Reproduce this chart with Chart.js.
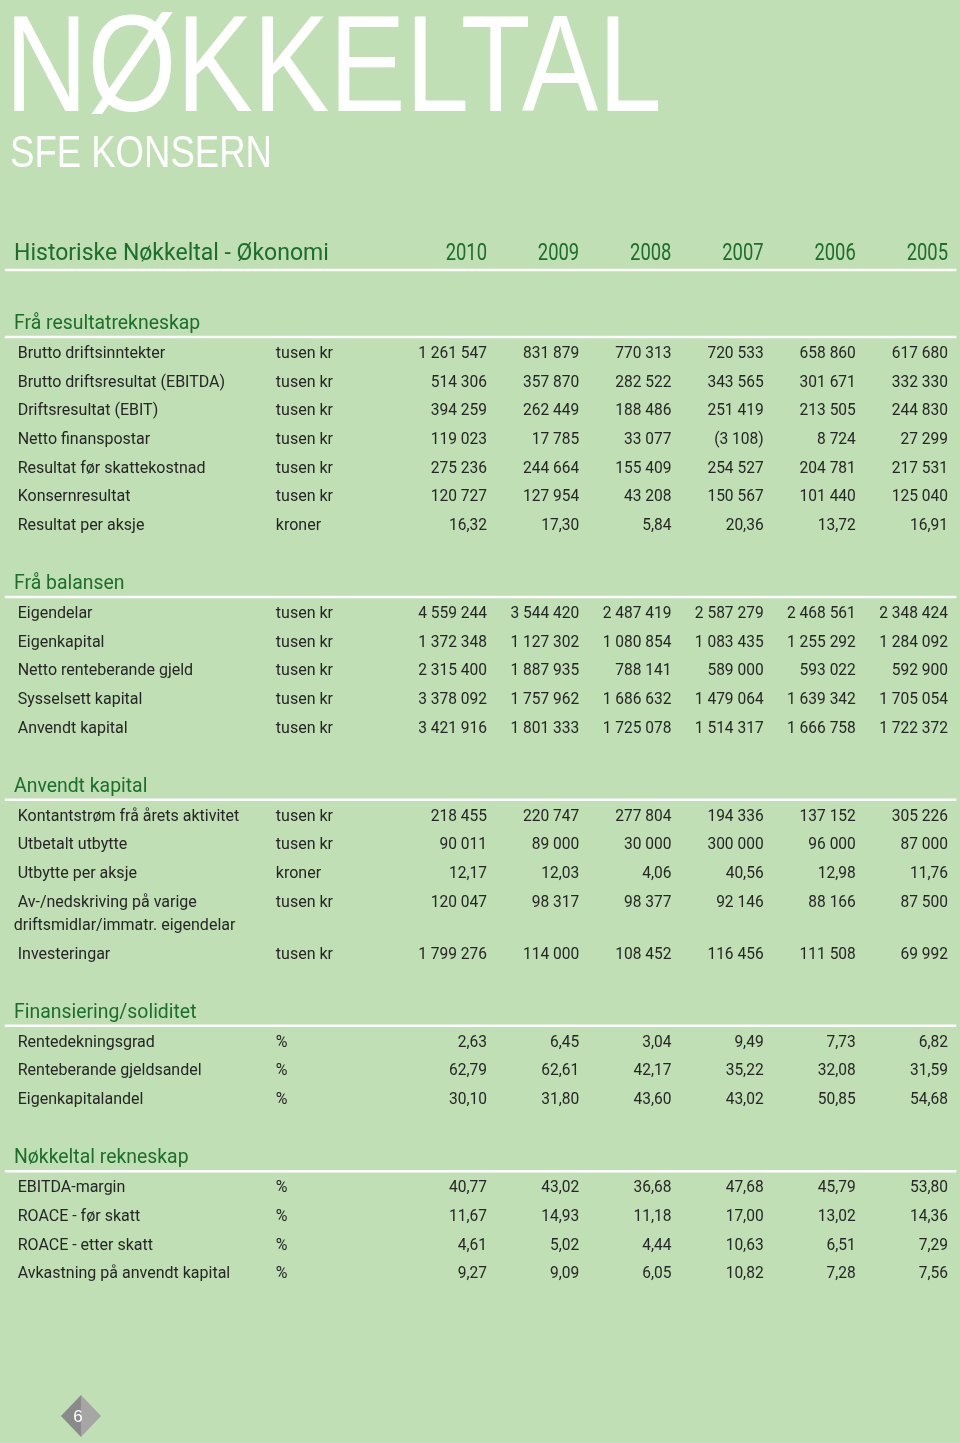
<!DOCTYPE html>
<html>
<head>
<meta charset="utf-8">
<script src="https://cdn.jsdelivr.net/npm/chart.js@4.4.1/dist/chart.umd.min.js"></script>
<style>
  html, body { margin: 0; padding: 0; background: #c0dfb4; }
  #wrap { width: 960px; height: 1443px; }
</style>
</head>
<body>
<div id="wrap"><canvas id="keyFigures" width="960" height="1443"></canvas></div>
<script>
// Table content
const pageTitle = 'NØKKELTAL';
const pageSubtitle = 'SFE KONSERN';
const tableTitle = 'Historiske Nøkkeltal - Økonomi';
const years = ['2010', '2009', '2008', '2007', '2006', '2005'];
const sectionNames = ['Frå resultatrekneskap', 'Frå balansen', 'Anvendt kapital', 'Finansiering/soliditet', 'Nøkkeltal rekneskap'];

const resultatLabels = ['Brutto driftsinntekter', 'Brutto driftsresultat (EBITDA)', 'Driftsresultat (EBIT)', 'Netto finanspostar',
  'Resultat før skattekostnad', 'Konsernresultat', 'Resultat per aksje'];
const resultatUnits = ['tusen kr', 'tusen kr', 'tusen kr', 'tusen kr', 'tusen kr', 'tusen kr', 'kroner'];
const resultatValues = [
  [1261547, 831879, 770313, 720533, 658860, 617680],
  [514306, 357870, 282522, 343565, 301671, 332330],
  [394259, 262449, 188486, 251419, 213505, 244830],
  [119023, 17785, 33077, -3108, 8724, 27299],
  [275236, 244664, 155409, 254527, 204781, 217531],
  [120727, 127954, 43208, 150567, 101440, 125040],
  [16.32, 17.30, 5.84, 20.36, 13.72, 16.91]
];

const balanseLabels = ['Eigendelar', 'Eigenkapital', 'Netto renteberande gjeld', 'Sysselsett kapital', 'Anvendt kapital'];
const balanseUnits = ['tusen kr', 'tusen kr', 'tusen kr', 'tusen kr', 'tusen kr'];
const balanseValues = [
  [4559244, 3544420, 2487419, 2587279, 2468561, 2348424],
  [1372348, 1127302, 1080854, 1083435, 1255292, 1284092],
  [2315400, 1887935, 788141, 589000, 593022, 592900],
  [3378092, 1757962, 1686632, 1479064, 1639342, 1705054],
  [3421916, 1801333, 1725078, 1514317, 1666758, 1722372]
];

const kapitalLabels = ['Kontantstrøm frå årets aktivitet', 'Utbetalt utbytte', 'Utbytte per aksje',
  'Av-/nedskriving på varige\ndriftsmidlar/immatr. eigendelar', 'Investeringar'];
const kapitalUnits = ['tusen kr', 'tusen kr', 'kroner', 'tusen kr', 'tusen kr'];
const kapitalValues = [
  [218455, 220747, 277804, 194336, 137152, 305226],
  [90011, 89000, 30000, 300000, 96000, 87000],
  [12.17, 12.03, 4.06, 40.56, 12.98, 11.76],
  [120047, 98317, 98377, 92146, 88166, 87500],
  [1799276, 114000, 108452, 116456, 111508, 69992]
];

const soliditetLabels = ['Rentedekningsgrad', 'Renteberande gjeldsandel', 'Eigenkapitalandel'];
const soliditetUnits = ['%', '%', '%'];
const soliditetValues = [
  [2.63, 6.45, 3.04, 9.49, 7.73, 6.82],
  [62.79, 62.61, 42.17, 35.22, 32.08, 31.59],
  [30.10, 31.80, 43.60, 43.02, 50.85, 54.68]
];

const rekneskapLabels = ['EBITDA-margin', 'ROACE - før skatt', 'ROACE - etter skatt', 'Avkastning på anvendt kapital'];
const rekneskapUnits = ['%', '%', '%', '%'];
const rekneskapValues = [
  [40.77, 43.02, 36.68, 47.68, 45.79, 53.80],
  [11.67, 14.93, 11.18, 17.00, 13.02, 14.36],
  [4.61, 5.02, 4.44, 10.63, 6.51, 7.29],
  [9.27, 9.09, 6.05, 10.82, 7.28, 7.56]
];

const pageNumber = '6';

// Layout (in scale units)
const ROW_PX = 28.68, COL_PX = 92.2;
const TITLE_Y_PX = 252, FIRST_COL_PX = 487;
const HEAD_COL = -5.13, LABEL_COL = -5.09, UNIT_COL = -2.29;
const RULE_START = -5.23, RULE_END = 5.09;
const FIRST_SECTION = 2.44, AFTER_HEAD = 1.05, SECTION_GAP = 2.02, WRAP_STEP = 1.81;
const TITLE_RULE = 0.63, HEAD_RULE = 0.52;

const GREEN = '#1c6e2c', INK = '#262626', BODY_FONT = 'Roboto, "Open Sans", sans-serif';

const sections = [
  [resultatLabels, resultatUnits, resultatValues],
  [balanseLabels, balanseUnits, balanseValues],
  [kapitalLabels, kapitalUnits, kapitalValues],
  [soliditetLabels, soliditetUnits, soliditetValues],
  [rekneskapLabels, rekneskapUnits, rekneskapValues]
];

function fmt(v, unit) {
  const dec = unit === 'tusen kr' ? 0 : 2;
  const parts = Math.abs(v).toFixed(dec).split('.');
  const whole = parts[0].replace(/\B(?=(\d{3})+(?!\d))/g, ' ');
  const s = parts[1] ? whole + ',' + parts[1] : whole;
  return v < 0 ? '(' + s + ')' : s;
}

// Build row positions
const headPts = [], labelPts = [], unitPts = [], labelTexts = [], unitTexts = [];
const valuePts = years.map(() => []), valueTexts = years.map(() => []);
const rules = [TITLE_RULE];
let slot = FIRST_SECTION;
sections.forEach(([labels, units, values], si) => {
  if (si > 0) slot += SECTION_GAP;
  headPts.push({ x: HEAD_COL, y: slot });
  rules.push(slot + HEAD_RULE);
  slot += AFTER_HEAD;
  labels.forEach((lab, ri) => {
    labelPts.push({ x: LABEL_COL, y: slot });
    labelTexts.push(lab);
    unitPts.push({ x: UNIT_COL, y: slot });
    unitTexts.push(units[ri]);
    values[ri].forEach((v, ci) => {
      valuePts[ci].push({ x: ci, y: slot });
      valueTexts[ci].push(fmt(v, units[ri]));
    });
    if (ri < labels.length - 1) slot += lab.includes('\n') ? WRAP_STEP : 1;
  });
});

const textSet = (data, texts, opts) => Object.assign({
  data, texts, pointRadius: 0, showLine: false, align: 'left', size: 16, color: INK, stretch: 1
}, opts);

const datasets = [];
rules.forEach(r => datasets.push({
  data: [{ x: RULE_START, y: r }, { x: RULE_END, y: r }],
  showLine: true, borderColor: '#ffffff', borderWidth: 2.5, pointRadius: 0
}));
datasets.push(textSet([{ x: HEAD_COL, y: 0 }], [tableTitle], { size: 23, color: GREEN, stretch: 1 }));
datasets.push(textSet(years.map((y, i) => ({ x: i, y: 0 })), years, { size: 23, color: GREEN, align: 'right', stretch: 0.8 }));
datasets.push(textSet(headPts, sectionNames, { size: 20, color: GREEN, stretch: 0.97 }));
datasets.push(textSet(labelPts, labelTexts, { lineH: 23, wrapIndent: -4 }));
datasets.push(textSet(unitPts, unitTexts, {}));
years.forEach((y, ci) => datasets.push(textSet(valuePts[ci], valueTexts[ci], { align: 'right', stretch: 0.97 })));

function drawStretched(ctx, text, x, y, align, stretch) {
  ctx.save();
  ctx.translate(x, y);
  ctx.scale(stretch, 1);
  ctx.textAlign = align;
  ctx.fillText(text, 0, 0);
  ctx.restore();
}

const cellText = {
  id: 'cellText',
  beforeDatasetsDraw(chart) {
    const ctx = chart.ctx, area = chart.chartArea;
    ctx.save();
    ctx.fillStyle = '#ffffff';
    ctx.textBaseline = 'alphabetic';
    // big page title, fitted to its width
    ctx.font = '137px "Liberation Sans Narrow", "Liberation Sans", sans-serif';
    let w = ctx.measureText(pageTitle).width;
    drawStretched(ctx, pageTitle, area.left + 5, area.top + 111, 'left', 657 / w);
    ctx.font = '45px "Liberation Sans Narrow", "Liberation Sans", sans-serif';
    w = ctx.measureText(pageSubtitle).width;
    drawStretched(ctx, pageSubtitle, area.left + 10, area.top + 167, 'left', 262 / w);
    // page number diamond
    const cx = area.left + 81, cy = area.bottom - 27, hw = 20, hh = 21;
    ctx.fillStyle = '#8a8a8a';
    ctx.beginPath(); ctx.moveTo(cx, cy - hh); ctx.lineTo(cx - hw, cy); ctx.lineTo(cx, cy + hh); ctx.closePath(); ctx.fill();
    ctx.fillStyle = '#a6a6a6';
    ctx.beginPath(); ctx.moveTo(cx, cy - hh); ctx.lineTo(cx + hw, cy); ctx.lineTo(cx, cy + hh); ctx.closePath(); ctx.fill();
    ctx.fillStyle = '#ffffff';
    ctx.font = '17px "Liberation Sans", sans-serif';
    ctx.textAlign = 'center';
    ctx.fillText(pageNumber, cx - 3, cy + 6);
    ctx.restore();
  },
  afterDatasetsDraw(chart) {
    const ctx = chart.ctx;
    chart.data.datasets.forEach((ds, i) => {
      if (!ds.texts) return;
      const meta = chart.getDatasetMeta(i);
      ctx.save();
      ctx.font = ds.size + 'px ' + BODY_FONT;
      ctx.fillStyle = ds.color;
      ctx.textBaseline = 'alphabetic';
      const shift = ds.size * 0.36;
      meta.data.forEach((pt, j) => {
        String(ds.texts[j]).split('\n').forEach((line, k) => {
          const x = pt.x + (k ? ds.wrapIndent : 0);
          const y = pt.y + shift + (k ? k * ds.lineH : 0);
          drawStretched(ctx, line, x, y, ds.align, ds.stretch);
        });
      });
      ctx.restore();
    });
  }
};

const xMin = -FIRST_COL_PX / COL_PX, yMin = -TITLE_Y_PX / ROW_PX;
new Chart(document.getElementById('keyFigures'), {
  type: 'scatter',
  data: { datasets },
  options: {
    responsive: false,
    animation: false,
    events: [],
    layout: { padding: 0 },
    plugins: { legend: { display: false }, tooltip: { enabled: false } },
    scales: {
      x: { type: 'linear', display: false, min: xMin, max: xMin + 960 / COL_PX },
      y: { type: 'linear', display: false, reverse: true, min: yMin, max: yMin + 1443 / ROW_PX }
    }
  },
  plugins: [cellText]
});
</script>
</body>
</html>
